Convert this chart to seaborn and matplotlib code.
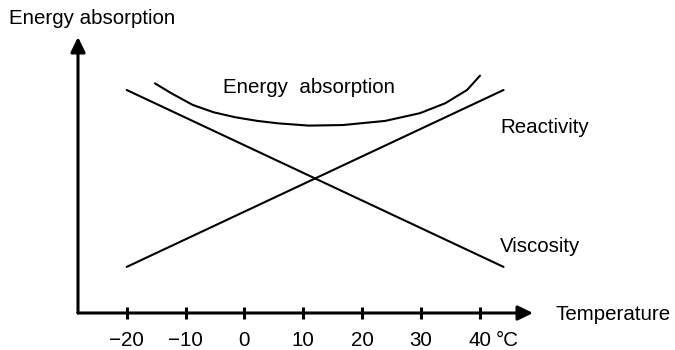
import matplotlib
matplotlib.use("Agg")
import matplotlib.pyplot as plt
import seaborn as sns
import pandas as pd

# ---- data ----
line_temps = [-20, 44]
viscosity = [80.8, 16.7]
reactivity = [16.7, 80.8]

energy_temps = [-15.2, -12.4, -8.8, -5.2, -1.5, 2.2, 5.8, 10.9, 16.7,
                23.9, 29.8, 34.1, 37.8, 40.0]
energy_abs = [83.2, 79.6, 75.4, 72.7, 70.9, 69.6, 68.7, 67.9, 68.1,
              69.6, 72.4, 76.0, 80.8, 86.0]

tick_values = [-20, -10, 0, 10, 20, 30, 40]
tick_labels = ["\u221220", "\u221210", "0", "10", "20", "30", "40"]

# ---- style ----
sns.set_theme(style="white")
plt.rcParams["font.family"] = ["Liberation Sans", "DejaVu Sans"]
FS = 14.8

W, H = 675, 350
fig = plt.figure(figsize=(W / 100, H / 100), dpi=100)
ax_left, ax_right, ax_bottom, ax_top = 78, 533, 313, 37
ax = fig.add_axes([ax_left / W, (H - ax_bottom) / H,
                   (ax_right - ax_left) / W, (ax_bottom - ax_top) / H])

lines_df = pd.DataFrame({"Temperature": line_temps,
                         "Viscosity": viscosity,
                         "Reactivity": reactivity})
energy_df = pd.DataFrame({"Temperature": energy_temps,
                          "Energy absorption": energy_abs})

lw = 1.5
sns.lineplot(data=lines_df, x="Temperature", y="Viscosity", color="black",
             lw=lw, ax=ax)
sns.lineplot(data=lines_df, x="Temperature", y="Reactivity", color="black",
             lw=lw, ax=ax)
sns.lineplot(data=energy_df, x="Temperature", y="Energy absorption",
             color="black", lw=lw, ax=ax)
for ln in ax.lines:
    ln.set_solid_joinstyle("round")

ax.set_xlim(-28.27, 49.0)
ax.set_ylim(0, 100)
ax.set_xlabel("")
ax.set_ylabel("")
ax.set_yticks([])
ax.set_xticks(tick_values, labels=tick_labels)
ax.tick_params(axis="x", direction="inout", length=8.6, width=2.2,
               pad=9, labelsize=FS, colors="black", bottom=True)
for s in ax.spines.values():
    s.set_visible(False)

# axes with arrow heads
arrow_kw = dict(arrowstyle="-|>,head_length=0.45,head_width=0.22",
                lw=2.2, color="black", shrinkA=0, shrinkB=0,
                mutation_scale=20)
ax.annotate("", xy=(1, 0), xytext=(0, 0), xycoords="axes fraction",
            arrowprops=arrow_kw, annotation_clip=False)
ax.annotate("", xy=(0, 1), xytext=(0, 0), xycoords="axes fraction",
            arrowprops=arrow_kw, annotation_clip=False)

# unit after the 40 tick label
ax.annotate("\u00b0C", xy=(40, 0), xycoords="data", xytext=(11, -23.5),
            textcoords="offset points", ha="left", va="baseline",
            fontsize=FS, color="black", annotation_clip=False)


def ftext(x, y, s, **kw):
    fig.text(x / W, 1 - y / H, s, fontsize=FS, color="black",
             va="baseline", ha="left", **kw)


ftext(9, 23.5, "Energy absorption")
ftext(555, 320, "Temperature")
ftext(223, 93.3, "Energy  absorption")
ftext(500, 133.3, "Reactivity")
ftext(500, 252.3, "Viscosity")

fig.savefig("out.png", dpi=100, facecolor="white")
